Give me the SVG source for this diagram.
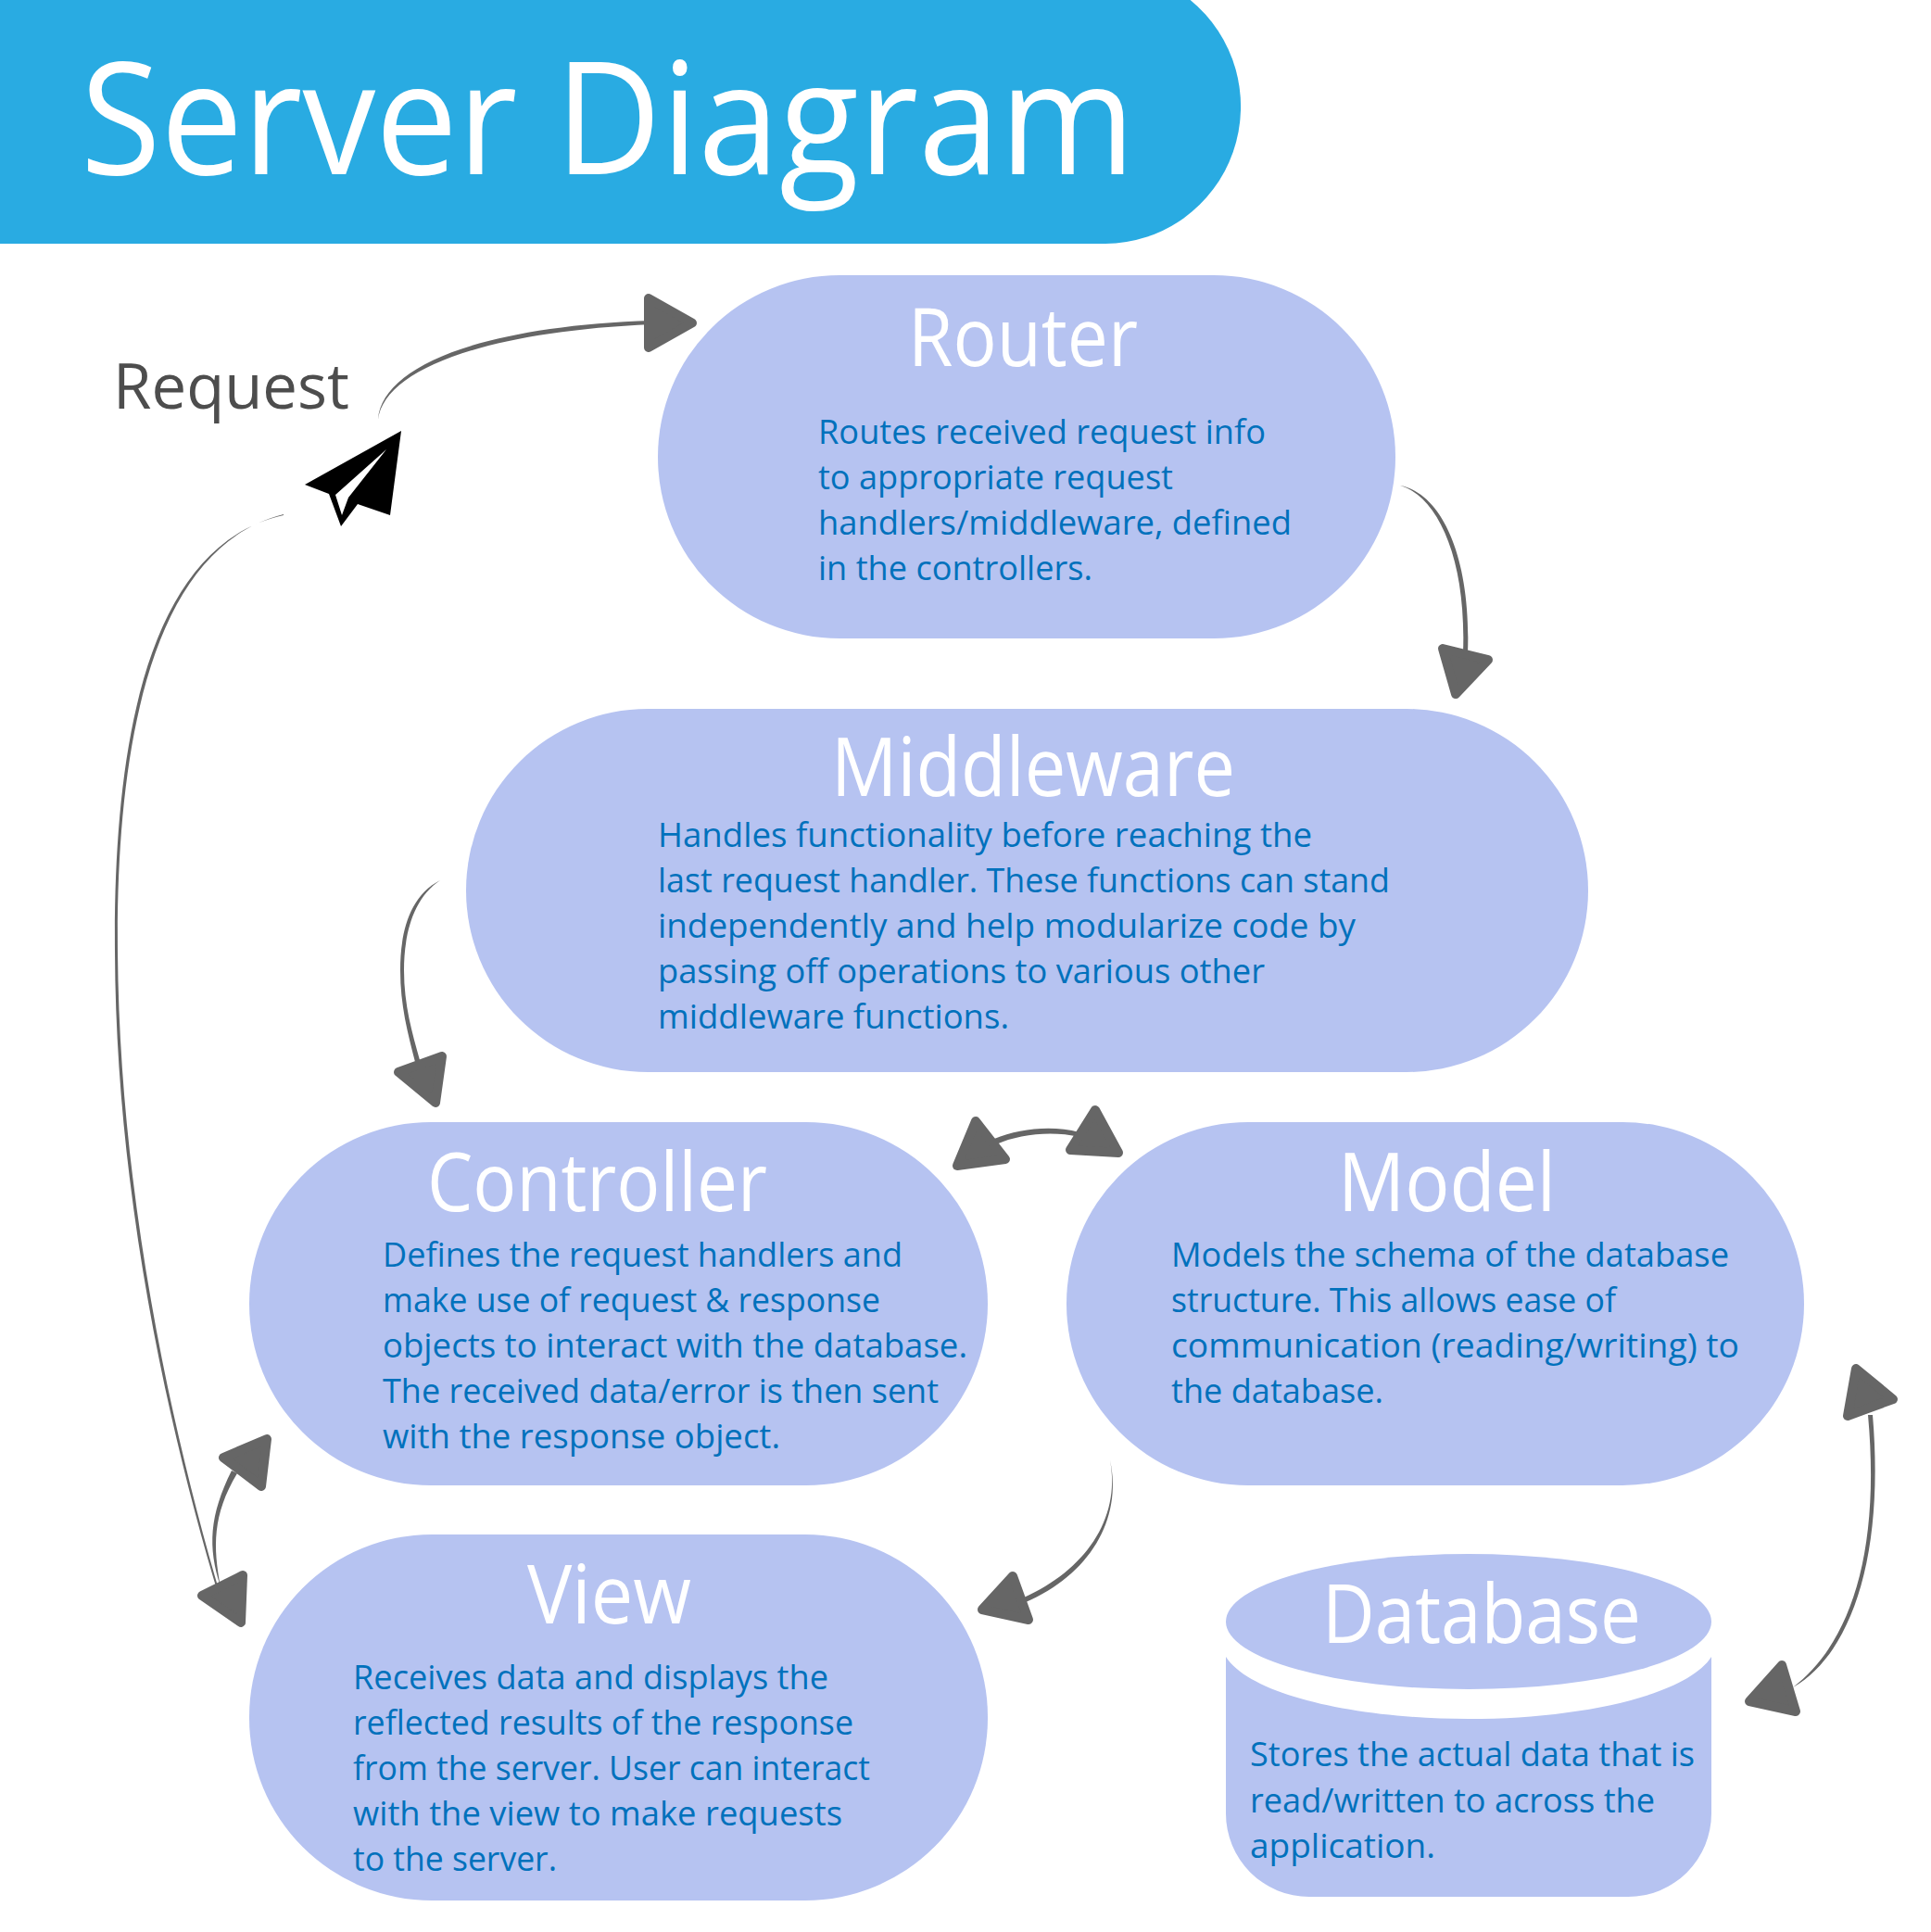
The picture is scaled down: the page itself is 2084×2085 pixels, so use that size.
<svg xmlns="http://www.w3.org/2000/svg" width="2084" height="2085" viewBox="0 0 2084 2085">
<style>
text{font-family:"Open Sans","Noto Sans","Liberation Sans",sans-serif}
.n{fill:#b6c3f1}
.t{fill:#fff;font-size:88px}
.b{fill:#0071bc;font-size:37px}
.c{fill:#666}
.h{fill:#666;stroke:#666;stroke-width:10;stroke-linejoin:round}
</style>
<rect width="2084" height="2085" fill="#fff"/>
<g id="header">
<path d="M0 0H1284.600A147 148 0 0 1 1193 263H0Z" fill="#29abe2"/>
<text x="87" y="188" font-size="168" fill="#fff" textLength="1138" lengthAdjust="spacingAndGlyphs">Server Diagram</text>
</g>
<g id="connectors">
<path class="c" d="M408 453C412 395 520 352 703 346V350C525 358 415 398 408 453Z"/>
<polygon class="h" points="700,322 747,348.500 700,375"/>
<path class="c" d="M1511 524C1550 535 1583 600 1579 705L1584 705C1588 600 1555 532 1511 524Z"/>
<polygon class="h" points="1557,700 1606,712 1571,749"/>
<path class="c" d="M475 950C440 968 432 1010 432 1047C432 1085 440 1115 448 1146L453 1144C445 1115 436 1085 436 1047C436 1010 445 970 475 950Z"/>
<polygon class="h" points="477,1140 430,1157 470,1190"/>
<path class="c" d="M1073 1229C1100 1218 1135 1214 1165 1222V1227C1135 1220 1100 1224 1075 1235Z"/>
<polygon class="h" points="1053,1210 1033,1258 1085,1251"/>
<polygon class="h" points="1182,1198 1155,1241 1207,1244"/>
<path class="c" d="M1198 1576C1210 1640 1170 1695 1105 1724L1107 1729C1175 1700 1212 1640 1198 1576Z"/>
<polygon class="h" points="1093,1701 1060,1737 1110,1748"/>
<path class="c" d="M1935 1821C1995 1775 2030 1680 2016 1527L2021 1527C2034 1680 1998 1785 1935 1821Z"/>
<polygon class="h" points="2003,1477 2043,1510 1994,1528"/>
<polygon class="h" points="1923,1797 1888,1836 1938,1847"/>
<path class="c" d="M238 1712C224 1670 226 1635 250 1587L256 1590C229 1635 230 1670 238 1712Z"/>
<polygon class="h" points="288,1553 241,1573 282,1604"/>
<path class="c" d="M306 555C165 590 125 800 127 1027C129 1300 190 1560 238 1722L236 1722C187 1560 125 1300 124 1027C122 800 160 588 306 556Z"/>
<polygon class="h" points="262,1700 218,1722 260,1751"/>
</g>
<g id="plane">
<path fill="#000" d="M433 465L329 523L355 533L368 568L386 544L421 556Z"/>
<path fill="#fff" d="M417 485L362 534L369 556L376 537Z"/>
</g>
<g id="request"><text x="122" y="441" font-size="68" fill="#4d4d4d" textLength="255" lengthAdjust="spacingAndGlyphs">Request</text></g>
<g id="router">
<rect class="n" x="710" y="297" width="796" height="392" rx="196"/>
<text class="t" x="980" y="395" textLength="248" lengthAdjust="spacingAndGlyphs">Router</text>
<g class="b">
<text x="883" y="479" textLength="483" lengthAdjust="spacingAndGlyphs">Routes received request info</text>
<text x="883" y="528" textLength="383" lengthAdjust="spacingAndGlyphs">to appropriate request</text>
<text x="883" y="577" textLength="511" lengthAdjust="spacingAndGlyphs">handlers/middleware, defined</text>
<text x="883" y="626" textLength="296" lengthAdjust="spacingAndGlyphs">in the controllers.</text>
</g>
</g>
<g id="middleware">
<rect class="n" x="503" y="765" width="1211" height="392" rx="196"/>
<text class="t" x="897" y="859" textLength="436" lengthAdjust="spacingAndGlyphs">Middleware</text>
<g class="b">
<text x="710" y="914" textLength="706" lengthAdjust="spacingAndGlyphs">Handles functionality before reaching the</text>
<text x="710" y="963" textLength="790" lengthAdjust="spacingAndGlyphs">last request handler. These functions can stand</text>
<text x="710" y="1012" textLength="753" lengthAdjust="spacingAndGlyphs">independently and help modularize code by</text>
<text x="710" y="1061" textLength="655" lengthAdjust="spacingAndGlyphs">passing off operations to various other</text>
<text x="710" y="1110" textLength="379" lengthAdjust="spacingAndGlyphs">middleware functions.</text>
</g>
</g>
<g id="controller">
<rect class="n" x="269" y="1211" width="797" height="392" rx="196"/>
<text class="t" x="461" y="1307" textLength="367" lengthAdjust="spacingAndGlyphs">Controller</text>
<g class="b">
<text x="413" y="1367" textLength="561" lengthAdjust="spacingAndGlyphs">Defines the request handlers and</text>
<text x="413" y="1416" textLength="537" lengthAdjust="spacingAndGlyphs">make use of request &amp; response</text>
<text x="413" y="1465" textLength="631" lengthAdjust="spacingAndGlyphs">objects to interact with the database.</text>
<text x="413" y="1514" textLength="600" lengthAdjust="spacingAndGlyphs">The received data/error is then sent</text>
<text x="413" y="1563" textLength="429" lengthAdjust="spacingAndGlyphs">with the response object.</text>
</g>
</g>
<g id="model">
<rect class="n" x="1151" y="1211" width="796" height="392" rx="196"/>
<text class="t" x="1444" y="1307" textLength="235" lengthAdjust="spacingAndGlyphs">Model</text>
<g class="b">
<text x="1264" y="1367" textLength="602" lengthAdjust="spacingAndGlyphs">Models the schema of the database</text>
<text x="1264" y="1416" textLength="480" lengthAdjust="spacingAndGlyphs">structure. This allows ease of</text>
<text x="1264" y="1465" textLength="613" lengthAdjust="spacingAndGlyphs">communication (reading/writing) to</text>
<text x="1264" y="1514" textLength="229" lengthAdjust="spacingAndGlyphs">the database.</text>
</g>
</g>
<g id="view">
<rect class="n" x="269" y="1656" width="797" height="395" rx="197"/>
<text class="t" x="569" y="1752" textLength="177" lengthAdjust="spacingAndGlyphs">View</text>
<g class="b">
<text x="381" y="1823" textLength="513" lengthAdjust="spacingAndGlyphs">Receives data and displays the</text>
<text x="381" y="1872" textLength="540" lengthAdjust="spacingAndGlyphs">reflected results of the response</text>
<text x="381" y="1921" textLength="558" lengthAdjust="spacingAndGlyphs">from the server. User can interact</text>
<text x="381" y="1970" textLength="528" lengthAdjust="spacingAndGlyphs">with the view to make requests</text>
<text x="381" y="2019" textLength="220" lengthAdjust="spacingAndGlyphs">to the server.</text>
</g>
</g>
<g id="database">
<ellipse class="n" cx="1585" cy="1750" rx="262" ry="73"/>
<path class="n" d="M1323 1788C1350 1830 1466 1855 1585 1855C1704 1855 1820 1830 1847 1788V1957A90 90 0 0 1 1757 2047H1413A90 90 0 0 1 1323 1957Z"/>
<text class="t" x="1427" y="1773" textLength="344" lengthAdjust="spacingAndGlyphs">Database</text>
<g class="b">
<text x="1349" y="1906" textLength="480" lengthAdjust="spacingAndGlyphs">Stores the actual data that is</text>
<text x="1349" y="1956" textLength="437" lengthAdjust="spacingAndGlyphs">read/written to across the</text>
<text x="1349" y="2005" textLength="200" lengthAdjust="spacingAndGlyphs">application.</text>
</g>
</g>
</svg>
